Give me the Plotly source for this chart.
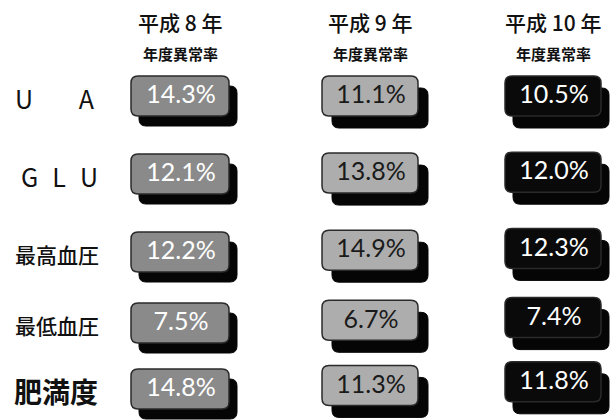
import plotly.graph_objects as go

# --- data -------------------------------------------------------------
years = ["平成 8 年", "平成 9 年", "平成 10 年"]
subtitle = "年度異常率"
items = ["U\u2003\u2002\u2004A", "G\u2002\u200aL\u2002\u200aU", "最高血圧", "最低血圧", "肥満度"]
rate_h8 = [14.3, 12.1, 12.2, 7.5, 14.8]
rate_h9 = [11.1, 13.8, 14.9, 6.7, 11.3]
rate_h10 = [10.5, 12.0, 12.3, 7.4, 11.8]

# --- layout constants ---------------------------------------------------
W, H = 614, 420
col_left = [131, 322, 505]
box_w = [98, 96, 96]
row_top = [76, 154, 232, 303, 369]
box_h = 40
fills = ["#8a8a8a", "#adadad", "#0a0a0a"]
text_cols = ["#ffffff", "#1a1a1a", "#ffffff"]
shadow_off = [(8, 10), (10, 12), (8, 12)]
label_left = [13, 19, 13, 13, 12]
label_sizes = [25, 25, 21, 21, 28]
label_weights = [400, 400, 500, 500, 700]

series = [rate_h8, rate_h9, rate_h10]


def rrect(x0, y0, x1, y1, r):
    return (f"M {x0+r},{y0} L {x1-r},{y0} Q {x1},{y0} {x1},{y0+r} "
            f"L {x1},{y1-r} Q {x1},{y1} {x1-r},{y1} L {x0+r},{y1} "
            f"Q {x0},{y1} {x0},{y1-r} L {x0},{y0+r} Q {x0},{y0} {x0+r},{y0} Z")


shapes = []
tx, ty, tt, tc = [], [], [], []
for c, vals in enumerate(series):
    for r, v in enumerate(vals):
        dy = -c * r * 0.9
        x0 = col_left[c]
        y0 = row_top[r] + dy
        x1 = x0 + box_w[c]
        y1 = y0 + box_h
        sx, sy = shadow_off[c]
        # drop shadow
        shapes.append(dict(type="path", path=rrect(x0 + sx, y0 + sy, x1 + sx, y1 + sy, 7),
                           fillcolor="#050505", line=dict(color="#050505", width=1),
                           xref="x", yref="y", layer="below"))
        # box body
        shapes.append(dict(type="path", path=rrect(x0, y0, x1, y1, 7),
                           fillcolor=fills[c], line=dict(color="#2a2a2a", width=1.5),
                           xref="x", yref="y", layer="below"))
        tx.append((x0 + x1) / 2 + 1)
        ty.append((y0 + y1) / 2 + 1)
        tt.append(f"{v:.1f}%")
        tc.append(text_cols[c])

fig = go.Figure()
fig.add_trace(go.Scatter(
    x=tx, y=ty, text=tt, mode="text",
    textfont=dict(family="Lato, Open Sans, sans-serif", size=25, color=tc),
    textposition="middle center", hoverinfo="skip", showlegend=False,
))

annotations = []
for c, yr in enumerate(years):
    cx = col_left[c] + box_w[c] / 2
    annotations.append(dict(x=cx, y=22, text=yr, showarrow=False, xref="x", yref="y",
                            font=dict(family="Noto Sans CJK JP", size=21, weight=500,
                                      color="#111111")))
    annotations.append(dict(x=cx, y=53, text=subtitle, showarrow=False, xref="x", yref="y",
                            font=dict(family="Noto Sans CJK JP", size=15, weight=700,
                                      color="#111111")))

for r, name in enumerate(items):
    annotations.append(dict(x=label_left[r], y=row_top[r] + box_h / 2 + 2, text=name,
                            showarrow=False, xref="x", yref="y", xanchor="left",
                            font=dict(family="Noto Sans CJK JP", size=label_sizes[r],
                                      weight=label_weights[r], color="#111111")))

fig.update_layout(
    width=W, height=H, margin=dict(l=0, r=0, t=0, b=0),
    paper_bgcolor="white", plot_bgcolor="white",
    xaxis=dict(range=[0, W], visible=False, fixedrange=True),
    yaxis=dict(range=[H, 0], visible=False, fixedrange=True),
    shapes=shapes, annotations=annotations,
)

fig.write_html("out.html")
